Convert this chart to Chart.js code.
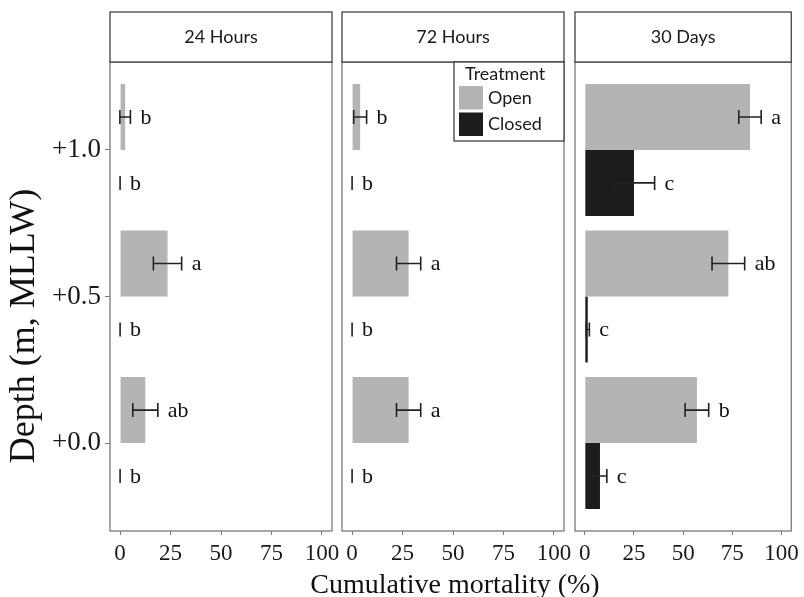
<!DOCTYPE html>
<html>
<head>
<meta charset="utf-8">
<script src="https://cdn.jsdelivr.net/npm/chart.js@4.4.0/dist/chart.umd.min.js"></script>
<style>
  html, body { margin: 0; padding: 0; background: #fff; }
  #wrap { position: relative; width: 804px; height: 597px; }
  #wrap canvas { position: absolute; left: 0; top: 0; }
</style>
</head>
<body>
<div id="wrap">
  <canvas id="c0" width="804" height="597"></canvas>
  <canvas id="c1" width="804" height="597"></canvas>
  <canvas id="c2" width="804" height="597"></canvas>
</div>
<script>
// data
const depths = ['+1.0', '+0.5', '+0.0'];
const periods = ['24 Hours', '72 Hours', '30 Days'];
const treatments = ['Open', 'Closed'];
const xTicks = [0, 25, 50, 75, 100];

// one row per period, one value per depth (+1.0, +0.5, +0.0)
const openMean = [[2.5, 23.5, 12.5], [4, 28, 28], [84, 73, 57]];
const openErr = [[2.6, 7, 6.2], [3.2, 6, 6], [5.7, 8.3, 6]];
const openLetters = [['b', 'a', 'ab'], ['b', 'a', 'a'], ['a', 'ab', 'b']];
const closedMean = [[0, 0, 0], [0, 0, 0], [25, 1.5, 7.7]];
const closedErr = [[0, 0, 0], [0, 0, 0], [10.5, 0.8, 3.5]];
const closedLetters = [['b', 'b', 'b'], ['b', 'b', 'b'], ['c', 'c', 'c']];

// look
const SERIF = '"Liberation Serif", "Times New Roman", serif';
const SANS = 'Lato, "Open Sans", sans-serif';
const colors = ['#b4b4b4', '#1c1c1c'];
const panelLeft = [110, 342, 575];
const panelWidth = 222;

const facetPlugin = {
  id: 'facet',
  afterDatasetsDraw(chart) {
    const { ctx, scales: { x } } = chart;
    ctx.save();
    chart.data.datasets.forEach((ds, d) => {
      const meta = chart.getDatasetMeta(d);
      meta.data.forEach((bar, i) => {
        const m = ds.data[i].x, e = ds.err[i];
        const x1 = x.getPixelForValue(m - e);
        const x2 = x.getPixelForValue(m + e);
        const y = bar.y;
        ctx.strokeStyle = '#222';
        ctx.lineWidth = 1.6;
        ctx.beginPath();
        ctx.moveTo(x1, y); ctx.lineTo(x2, y);
        ctx.moveTo(x1, y - 7); ctx.lineTo(x1, y + 7);
        ctx.moveTo(x2, y - 7); ctx.lineTo(x2, y + 7);
        ctx.stroke();
        ctx.fillStyle = '#111';
        ctx.font = '22px ' + SERIF;
        ctx.textAlign = 'left';
        ctx.textBaseline = 'middle';
        ctx.fillText(ds.letters[i], x2 + 10, y + 1);
      });
    });
    ctx.restore();
  },
  afterDraw(chart, args, opts) {
    const { ctx, chartArea: a } = chart;
    ctx.save();
    // panel border
    ctx.strokeStyle = '#7a7a7a';
    ctx.lineWidth = 1.3;
    ctx.strokeRect(a.left, a.top, a.width, a.height);
    // strip
    ctx.fillStyle = '#fff';
    ctx.fillRect(a.left, 12, a.width, a.top - 12);
    ctx.strokeStyle = '#333';
    ctx.lineWidth = 1.2;
    ctx.strokeRect(a.left, 12, a.width, a.top - 12);
    ctx.fillStyle = '#1a1a1a';
    ctx.font = '18px ' + SANS;
    ctx.textAlign = 'center';
    ctx.textBaseline = 'middle';
    ctx.fillText(opts.strip, a.left + a.width / 2, 37);

    // y title, first panel only
    if (opts.yTitle) {
      ctx.save();
      ctx.translate(25, 326);
      ctx.rotate(-Math.PI / 2);
      ctx.fillStyle = '#111';
      ctx.font = '36px ' + SERIF;
      ctx.textAlign = 'center';
      ctx.textBaseline = 'middle';
      ctx.fillText(opts.yTitle, 0, 0);
      ctx.restore();
    }
    // legend + shared x title, on the middle panel
    if (opts.legend) {
      const lx = a.right - 110, ly = a.top;
      ctx.fillStyle = '#fff';
      ctx.fillRect(lx, ly, 110, 79);
      ctx.strokeStyle = '#333';
      ctx.strokeRect(lx, ly, 110, 79);
      ctx.fillStyle = '#1a1a1a';
      ctx.textAlign = 'left';
      ctx.font = '18px ' + SANS;
      ctx.fillText('Treatment', lx + 11, ly + 12);
      treatments.forEach((t, k) => {
        const ky = ly + 24 + k * 26.5;
        ctx.fillStyle = colors[k];
        ctx.fillRect(lx + 5, ky, 24, 23.5);
        ctx.fillStyle = '#1a1a1a';
        ctx.fillText(t, lx + 34, ky + 12);
      });

      ctx.fillStyle = '#111';
      ctx.font = '28px ' + SERIF;
      ctx.textAlign = 'center';
      ctx.textBaseline = 'alphabetic';
      ctx.fillText('Cumulative mortality (%)', a.left + a.width / 2 + 2, 593);
    }
    ctx.restore();
  }
};

periods.forEach((period, p) => {
  const yPos = i => depths.length - i;
  new Chart(document.getElementById('c' + p), {
    type: 'bar',
    data: {
      datasets: [
        {
          label: treatments[0],
          data: openMean[p].map((v, i) => ({ x: v, y: yPos(i) })),
          backgroundColor: colors[0],
          err: openErr[p],
          letters: openLetters[p]
        },
        {
          label: treatments[1],
          data: closedMean[p].map((v, i) => ({ x: v, y: yPos(i) })),
          backgroundColor: colors[1],
          err: closedErr[p],
          letters: closedLetters[p]
        }
      ]
    },
    options: {
      indexAxis: 'y',
      responsive: false,
      animation: false,
      events: [],
      categoryPercentage: 0.9,
      barPercentage: 1,
      layout: {
        padding: {
          left: p === 0 ? 0 : panelLeft[p],
          right: 804 - panelLeft[p] - panelWidth,
          top: 62,
          bottom: 0
        }
      },
      plugins: {
        legend: { display: false },
        tooltip: { enabled: false },
        facet: { strip: period, legend: p === 1, yTitle: p === 0 ? 'Depth (m, MLLW)' : '' }
      },
      scales: {
        x: {
          type: 'linear',
          min: -5,
          max: 105,
          afterBuildTicks: s => { s.ticks = xTicks.map(v => ({ value: v })); },
          afterFit: s => { s.height = 66; },
          grid: { display: true, drawOnChartArea: false, drawTicks: true, tickLength: 4, color: '#7a7a7a' },
          border: { display: false },
          ticks: { font: { family: SERIF, size: 23 }, color: '#1a1a1a', padding: 5, maxRotation: 0, autoSkip: false }
        },
        y: {
          type: 'linear',
          display: p === 0,
          min: 0.4,
          max: 3.6,
          offset: false,
          afterBuildTicks: s => { s.ticks = depths.map((d, i) => ({ value: yPos(i) })); },
          afterFit: s => { s.width = p === 0 ? 110 : 0; },
          grid: { display: true, offset: false, drawOnChartArea: false, drawTicks: true, tickLength: 5, color: '#7a7a7a' },
          border: { display: false },
          ticks: {
            font: { family: SERIF, size: 27 },
            color: '#1a1a1a',
            padding: 4,
            autoSkip: false,
            callback: v => depths[depths.length - v]
          }
        }
      }
    },
    plugins: [facetPlugin]
  });
});
</script>
</body>
</html>
